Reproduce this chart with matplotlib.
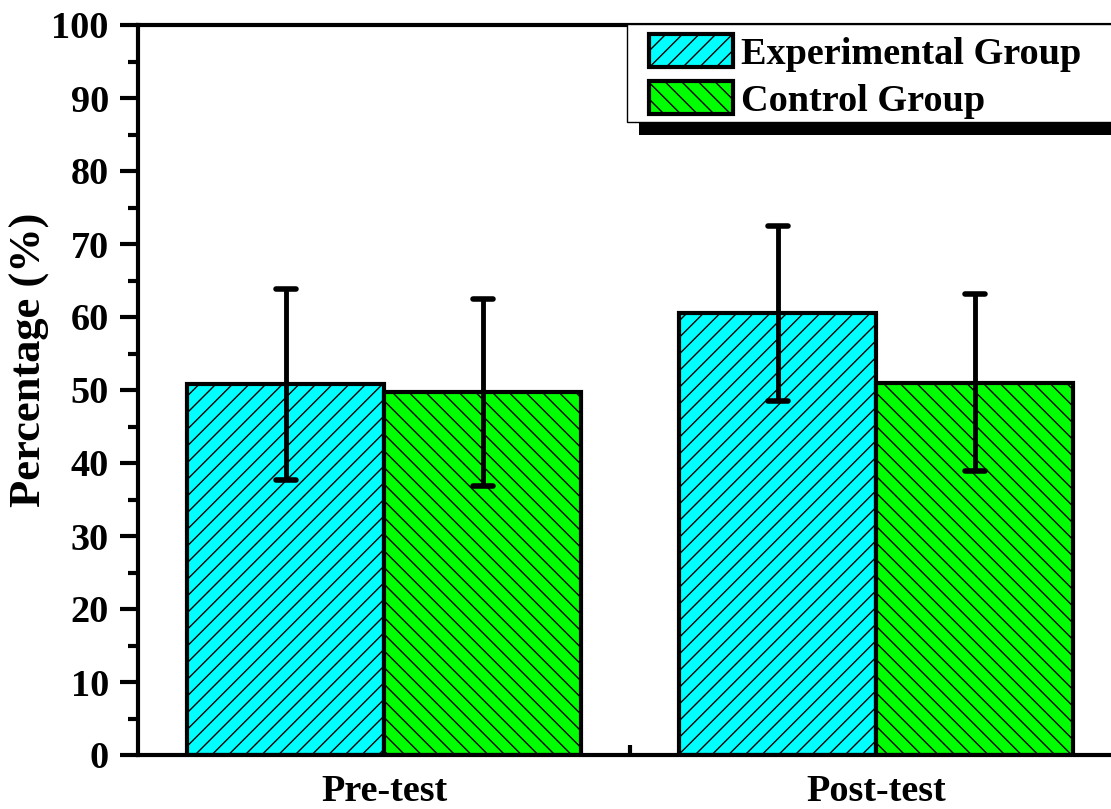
import matplotlib
matplotlib.use("Agg")
import matplotlib.pyplot as plt
import matplotlib.patches as mpatches
from matplotlib.markers import MarkerStyle
import numpy as np

plt.rcParams["font.family"] = ["Liberation Serif", "DejaVu Serif"]
plt.rcParams["font.weight"] = "bold"
plt.rcParams["hatch.linewidth"] = 1.0

# data
groups = ["Pre-test", "Post-test"]
series = ["Experimental Group", "Control Group"]
experimental = [50.8, 60.5]
experimental_err = [13.1, 12.0]
control = [49.7, 51.0]
control_err = [12.8, 12.1]
y_ticks = list(range(0, 101, 10))

W, H = 1111, 809
fig = plt.figure(figsize=(W / 100, H / 100), dpi=100)
ax = fig.add_axes([138 / W, 1 - 755 / H, (1122.5 - 138) / W, (755 - 25) / H])

x = np.arange(1, len(groups) + 1)
bw = 0.4
styles = [
    (experimental, experimental_err, -bw / 2, "#00FFFF", "//"),
    (control, control_err, bw / 2, "#00FF00", "\\\\"),
]
for (vals, errs, off, color, hatch), name in zip(styles, series):
    ax.bar(x + off, vals, bw, color=color, edgecolor="black",
           linewidth=3, hatch=hatch, label=name, zorder=2)
    eb = ax.errorbar(x + off, vals, yerr=errs, fmt="none", ecolor="black",
                     elinewidth=3.5, capsize=7, capthick=4, zorder=3)
    for ln in eb[1]:
        ln.set_marker(MarkerStyle("_", capstyle="round"))

ax.set_xlim(0.5, 2.5)
ax.set_ylim(0, 100)
ax.set_xticks(x)
ax.set_xticklabels(groups)
ax.set_xticks([1.5], minor=True)
ax.set_yticks(y_ticks)
ax.set_yticks(np.arange(5, 100, 10), minor=True)

for s in ax.spines.values():
    s.set_linewidth(3)
ax.tick_params(axis="y", which="major", direction="out", length=13, width=3,
               labelsize=27.5, pad=8)
ax.tick_params(axis="y", which="minor", direction="out", length=7, width=3)
ax.tick_params(axis="x", which="major", direction="in", length=0,
               labelsize=27.5, pad=14)
ax.tick_params(axis="x", which="minor", direction="in", length=7, width=3)

ax.set_ylabel("Percentage (%)", fontsize=32, fontweight="bold")
ax.yaxis.set_label_coords(-0.0895, 0.541)

# legend with a hard black drop shadow, as in the original
bx0, by0, bx1, by1 = 627, 24, 1125, 122
shadow = mpatches.Rectangle(((bx0 + 12) / W, 1 - (by1 + 13) / H),
                            (bx1 - bx0) / W, (by1 - by0) / H,
                            transform=fig.transFigure, facecolor="black",
                            edgecolor="none", zorder=5)
frame = mpatches.Rectangle((bx0 / W, 1 - by1 / H), (bx1 - bx0) / W,
                           (by1 - by0) / H, transform=fig.transFigure,
                           facecolor="white", edgecolor="black",
                           linewidth=1, zorder=6)
fig.patches.extend([shadow, frame])

leg = fig.legend([mpatches.Patch(facecolor=c, edgecolor="black", hatch=h)
                  for _, _, _, c, h in styles], series, loc="upper left",
                 bbox_to_anchor=(649 / W, 1 - 34 / H),
                 frameon=False, fontsize=27.5, handlelength=2.2,
                 handleheight=0.95, handletextpad=0.2, labelspacing=0.25,
                 borderpad=0, borderaxespad=0)
leg.set_zorder(7)
for p in leg.get_patches():
    p.set_linewidth(3)

fig.savefig("out.png", dpi=100)
